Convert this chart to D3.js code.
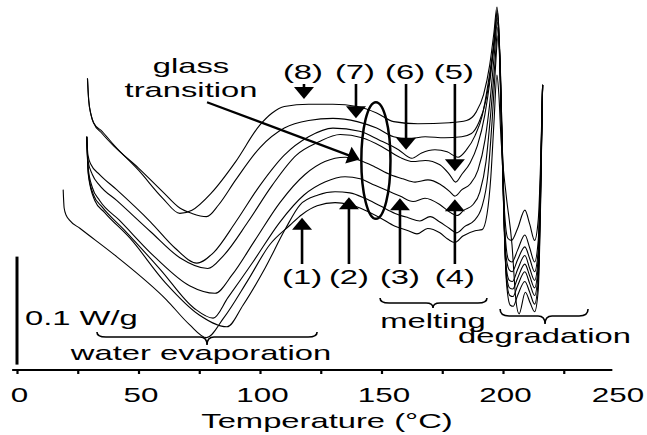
<!DOCTYPE html>
<html>
<head>
<meta charset="utf-8">
<script src="https://cdn.jsdelivr.net/npm/d3@7"></script>
<style>
  html, body { margin: 0; padding: 0; background: #fff; }
  svg { display: block; }
  text { font-family: "Liberation Sans", Arial, Helvetica, sans-serif; fill: #000; }
</style>
</head>
<body>
<svg id="chart" width="647" height="435"></svg>
<script>
// DSC heating scans, eight samples stacked with vertical offsets.
// Each point: [temperature °C, heat flow mW/g (offset)]
const curve1 = [[19,167],[19.4,150],[20.3,143],[21.5,139],[26,131],[41,105],[61.5,65],[71,42],[78,30],[85,48],[95,83],[104,116],[112.3,134],[117.3,144],[123.5,152],[130.9,155],[137,153],[143.2,148],[149.4,141],[155.6,133],[161,129],[164.6,126],[169,131],[174,127],[177.4,121],[180.2,118],[183.5,124],[188.5,129],[191.4,130],[193.4,144],[195,179],[196.3,230],[197.5,273],[198.3,255],[199.2,213],[201.3,162],[203.7,116],[205.3,65],[206.6,52],[209.2,72],[211.2,62],[213,54],[214.5,74],[215.5,157],[216.3,264]];
const curve2 = [[28.7,216],[29.4,180],[32,157],[36,146],[46.5,122],[61,81],[75,51],[86.4,40],[93,60],[102,94],[110.3,130],[116.5,153],[123.9,162],[130.9,165],[137,164],[143.2,159],[149.4,152],[155.6,145],[161,141],[165.8,138],[170,142],[174,137],[178,131],[181,127],[184.3,133],[188,138],[191.3,151],[193.8,181],[195.5,230],[196.7,273],[198,310],[199.1,264],[200.3,153],[201.5,79],[203,60],[204.2,59],[206,69],[209,82],[211,72],[213,61],[214.5,83],[215.5,162],[216.3,264]];
const curve3 = [[28.7,216],[29.3,183],[31.5,162],[35,151],[44,130],[59,93],[73,57],[80.7,48],[86.8,67],[97.1,100],[108.2,137],[118.1,162],[126.7,174],[135,179],[141.2,177],[147.3,171],[153.5,165],[157.6,161],[163,156],[167.9,159],[174.1,153],[178.2,146],[181.1,143],[183.9,148],[187.6,153],[190.5,165],[193,193],[195,239],[196.7,285],[197.9,317],[199,273],[200.2,162],[201.4,85],[202.8,69],[204.1,68],[206,78],[209,91],[211,80],[213,69],[214.5,91],[215.5,167],[216.3,264]];
const curve4 = [[28.7,216],[29.3,187],[31,169],[34,157],[42,139],[57,104],[71,78],[81.5,71],[88.5,88],[97.9,120],[108.2,155],[118.5,181],[126.7,193],[135,197],[141.2,194],[147.3,188],[153.5,181],[158.8,177],[163.8,174],[169.1,176],[174.1,172],[178.2,165],[180.2,161],[183.1,167],[186.4,172],[189.7,185],[192.6,213],[194.7,250],[196.3,289],[197.7,322],[198.7,282],[200,171],[201.2,93],[202.7,76],[204,75],[206,85],[209,98],[211,87],[213,76],[214.5,97],[215.5,171],[216.3,264]];
const curve5 = [[28.7,216],[29.2,194],[31,181],[34,171],[41,157],[55,128],[67,104],[78.5,94],[85,106],[95,137],[105,171],[115,199],[124,211],[133,218],[142,215],[150,207],[157.5,197],[163,193],[168,194],[174,190],[178,181],[180.5,174],[183,181],[186.5,192],[189.5,208],[192.5,236],[194.7,269],[196.3,301],[197.6,326],[198.6,292],[199.9,181],[201.1,100],[202.6,83],[203.9,82],[206,93],[209,106],[211,94],[213,83],[214.5,104],[215.5,176],[216.3,264]];
const curve6 = [[28.7,216],[29.2,199],[30.5,190],[34,181],[41,167],[55,137],[65,113],[74,99],[81,109],[90,137],[100,171],[110,199],[120,216],[130,224],[141,221],[149,213],[157,204],[162.5,196],[166.5,201],[172,204],[177,202],[181.5,197],[185,204],[188.5,217],[191.5,236],[194,267],[196,298],[197.6,330],[198.5,301],[199.8,190],[201,111],[202.5,93],[203.8,91],[206,102],[209,114],[211,103],[213,91],[214.5,111],[215.5,181],[216.3,264]];
const curve7 = [[29,270],[29.5,250],[30.5,236],[31.5,229],[35,219],[40,207],[50,187],[60,165],[67,150],[72,145],[78,142],[83,153],[90,176],[100,206],[110,224],[120,231],[130,233],[140,230],[148,224],[155,216],[161,214],[168,216],[176,215],[183,216],[187,219],[190,229],[193,250],[195,278],[196.5,307],[197.6,333],[198.4,310],[199.7,204],[200.9,125],[202.3,102],[203.7,100],[206,111],[209,125],[211,113],[213,100],[214.5,120],[215.5,185],[216.3,264]];
const curve8 = [[29,270],[29.5,250],[30.5,236],[31.5,229],[35,221],[40,208],[50,185],[60,159],[67,145],[72,148],[80,164],[90,193],[100,227],[105,238],[110,244],[120,246],[130,246],[140,244],[148,238],[155,230],[165,228],[178,229],[185,231],[189,239],[192,255],[194.5,282],[196.3,313],[197.5,336],[198.3,315],[199.6,213],[200.7,144],[202,122],[203.5,120],[206,131],[209,148],[211,135],[213,120],[214.5,139],[215.5,194],[216.3,264]];
const traces = [curve1, curve2, curve3, curve4, curve5, curve6, curve7, curve8];

// Axis ticks (°C)
const minorTicks = [0, 25, 50, 75, 100, 125, 150, 175, 200, 225];
const tickLabels = [0, 50, 100, 150, 200, 250];
const axisSpan = [-2, 245];

// Sample markers: [label, temperature °C, heat flow at arrow tip]
const upperMarks = [["(8)", 118.1, 251], ["(7)", 139.5, 233], ["(6)", 160.1, 204], ["(5)", 180.2, 184]];
const lowerMarks = [["(1)", 117.3, 141], ["(2)", 136.6, 160], ["(3)", 157.6, 159], ["(4)", 180.2, 158]];

// Thermal events: [label, start °C, end °C, brace tip °C]
const events = [["water evaporation", 32.9, 123.5, 78.2], ["melting", 149.4, 193.4, 171.2], ["degradation", 198.8, 235, 217.3]];

// Scale bar (mW/g)
const scaleBar = [5, 105];

const svg = d3.select("#chart");
const x = d3.scaleLinear().domain([0, 250]).range([17, 624.5]);
const y = d3.scaleLinear().domain([0, 340]).range([370, 370 - 340 * 1.08]);

const SX = 1.56;      // horizontal stretch of the lettering
const FS = 21;

function label(txt, cx, base, anchor = "middle", fs = FS, sx = SX) {
  return svg.append("text")
    .attr("transform", `translate(${cx},${base}) scale(${sx},1)`)
    .attr("text-anchor", anchor)
    .attr("font-size", fs)
    .text(txt);
}

function arrow(x1, y1, x2, y2, len = 12, hw = 10, sw = 2.6) {
  const a = Math.atan2(y2 - y1, x2 - x1);
  const bx = x2 - len * Math.cos(a), by = y2 - len * Math.sin(a);
  const nx = -Math.sin(a), ny = Math.cos(a);
  svg.append("line")
    .attr("x1", x1).attr("y1", y1)
    .attr("x2", bx + 2 * Math.cos(a)).attr("y2", by + 2 * Math.sin(a))
    .attr("stroke", "#000").attr("stroke-width", sw);
  svg.append("path")
    .attr("d", `M${x2},${y2}L${bx + hw * nx},${by + hw * ny}L${bx - hw * nx},${by - hw * ny}Z`)
    .attr("fill", "#000");
}

function brace(xa, xb, xt, yEnd, yFlat, yTip) {
  const p = `M${xa},${yEnd} Q${xa},${yFlat} ${xa + 9},${yFlat} L${xt - 7},${yFlat} Q${xt},${yFlat} ${xt},${yTip} Q${xt},${yFlat} ${xt + 7},${yFlat} L${xb - 9},${yFlat} Q${xb},${yFlat} ${xb},${yEnd}`;
  svg.append("path").attr("d", p).attr("fill", "none").attr("stroke", "#000").attr("stroke-width", 1.6);
}

// Traces
const line = d3.line().x(d => x(d[0])).y(d => y(d[1])).curve(d3.curveMonotoneX);
svg.append("g").selectAll("path").data(traces).join("path")
  .attr("d", line)
  .attr("fill", "none")
  .attr("stroke", "#000")
  .attr("stroke-width", 1.1)
  .attr("stroke-linejoin", "round");

// X axis: baseline, minor tick marks, labels
svg.append("line")
  .attr("x1", x(axisSpan[0])).attr("x2", x(axisSpan[1]))
  .attr("y1", y(0)).attr("y2", y(0))
  .attr("stroke", "#000").attr("stroke-width", 2);

const tickAxis = svg.append("g").attr("transform", `translate(0,${y(0)})`)
  .call(d3.axisBottom(x).tickValues(minorTicks).tickSize(4).tickFormat(""));
tickAxis.select(".domain").remove();
tickAxis.selectAll(".tick line").attr("stroke", "#000").attr("stroke-width", 2.2);

const labelAxis = svg.append("g").attr("transform", `translate(0,${y(0)})`)
  .call(d3.axisBottom(x).tickValues(tickLabels).tickSize(0).tickFormat(d3.format("d")));
labelAxis.select(".domain").remove();
labelAxis.selectAll(".tick text")
  .attr("y", 0).attr("dy", 0)
  .attr("font-size", 20)
  .attr("font-family", null)
  .attr("transform", d => `translate(${d === 250 ? -7 : 2},32) scale(1.57,1)`);

label("Temperature (°C)", 327, 428);

// Scale bar
svg.append("line")
  .attr("x1", x(0)).attr("x2", x(0))
  .attr("y1", y(scaleBar[0])).attr("y2", y(scaleBar[1]))
  .attr("stroke", "#000").attr("stroke-width", 3);
label("0.1 W/g", 25, 325, "start");

// Thermal event braces
const braceLevels = {
  "water evaporation": [332, 337, 345, 360, 201],
  "melting": [298, 303, 308, 328, 433],
  "degradation": [309, 316, 324, 343, 544.5]
};
events.forEach(([name, t0, t1, tt]) => {
  const [yE, yF, yT, base, cx] = braceLevels[name];
  brace(x(t0), x(t1), x(tt), yE, yF, yT);
  label(name, cx, base);
});

// Glass transition region
svg.append("ellipse")
  .attr("cx", x(147.7)).attr("cy", y(194))
  .attr("rx", x(6) - x(0)).attr("ry", y(0) - y(54))
  .attr("fill", "none").attr("stroke", "#000").attr("stroke-width", 2.5);
label("glass", 191, 73);
label("transition", 191, 97);
arrow(x(78.2), y(248), x(141), y(195), 12, 9, 2.2);

// Sample arrows
upperMarks.forEach(([txt, t, hf]) => {
  label(txt, x(t) - 1, 79);
  arrow(x(t), 84, x(t), y(hf));
});
lowerMarks.forEach(([txt, t, hf]) => {
  label(txt, x(t), 284);
  arrow(x(t), 264, x(t), y(hf));
});
</script>
</body>
</html>
